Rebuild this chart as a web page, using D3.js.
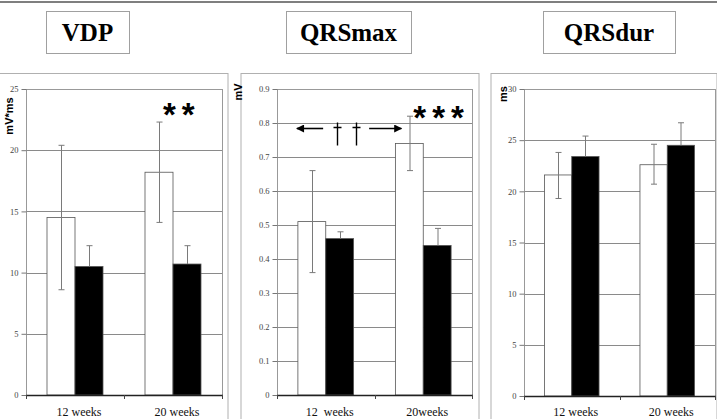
<!DOCTYPE html>
<html>
<head>
<meta charset="utf-8">
<script src="https://cdn.jsdelivr.net/npm/d3@7"></script>
<style>
  body { margin: 0; background: #fff; }
  svg { display: block; }
</style>
</head>
<body>
<div class="wrapper"></div>
<script>
// ---- data ----
var series = ["control", "treated"];

var vdpCats = ["12 weeks", "20 weeks"];
var vdpTicks = [0, 5, 10, 15, 20, 25];
var vdpWhite = [14.5, 18.2];
var vdpWhiteHi = [20.4, 22.3];
var vdpWhiteLo = [8.6, 14.1];
var vdpBlack = [10.5, 10.7];
var vdpBlackHi = [12.2, 12.2];

var qmaxCats = ["12  weeks", "20weeks"];
var qmaxTicks = [0, 0.1, 0.2, 0.3, 0.4, 0.5, 0.6, 0.7, 0.8, 0.9];
var qmaxWhite = [0.51, 0.74];
var qmaxWhiteHi = [0.66, 0.82];
var qmaxWhiteLo = [0.36, 0.66];
var qmaxBlack = [0.46, 0.44];
var qmaxBlackHi = [0.48, 0.49];

var qdurCats = ["12 weeks", "20 weeks"];
var qdurTicks = [0, 5, 10, 15, 20, 25, 30];
var qdurWhite = [21.6, 22.6];
var qdurWhiteHi = [23.8, 24.6];
var qdurWhiteLo = [19.3, 20.7];
var qdurBlack = [23.4, 24.5];
var qdurBlackHi = [25.4, 26.7];

var SERIF = "Liberation Serif";
var SANS = "Liberation Sans";

var width = 717, height = 419;

var svg = d3.select(".wrapper").append("svg")
  .attr("width", width)
  .attr("height", height);

// outer top rule
svg.append("line")
  .attr("x1", 0).attr("x2", width)
  .attr("y1", 2).attr("y2", 2)
  .attr("stroke", "#555").attr("stroke-width", 1.5);

function rows(cats, white, whiteHi, whiteLo, black, blackHi) {
  return cats.map(function(c, i) {
    return {
      cat: c,
      bars: [
        {key: "control", value: white[i], hi: whiteHi[i], lo: whiteLo[i]},
        {key: "treated", value: black[i], hi: blackHi[i], lo: null}
      ]
    };
  });
}

function drawPanel(p) {
  var g = svg.append("g");

  // panel frame
  g.append("rect")
    .attr("x", p.frame[0]).attr("y", 73.5)
    .attr("width", p.frame[1] - p.frame[0]).attr("height", 360)
    .attr("fill", "none").attr("stroke", "#b0b0b0");

  // title box
  g.append("rect")
    .attr("x", p.titleBox[0] + 0.5).attr("y", 11.5)
    .attr("width", p.titleBox[1] - p.titleBox[0]).attr("height", 42)
    .attr("fill", "#fff").attr("stroke", "#a0a0a0");
  g.append("text")
    .attr("x", (p.titleBox[0] + p.titleBox[1]) / 2)
    .attr("y", 41)
    .attr("text-anchor", "middle")
    .attr("font-family", SERIF)
    .attr("font-weight", "bold")
    .attr("font-size", 25)
    .attr("fill", "#000")
    .text(p.title);

  var y = d3.scaleLinear().domain([0, p.max]).range([p.bottom, p.top]);
  var x0 = d3.scaleBand().domain(p.data.map(function(d) { return d.cat; }))
    .range([p.left, p.right]);
  var x1 = d3.scaleBand().domain(series)
    .range([0, x0.bandwidth()])
    .paddingInner(0).paddingOuter(0.75);
  var z = d3.scaleOrdinal().domain(series).range(["#fff", "#000"]);

  // gridlines
  g.append("g")
    .selectAll("line")
    .data(p.ticks.filter(function(t) { return t > 0; }))
    .enter().append("line")
      .attr("x1", p.left).attr("x2", p.right)
      .attr("y1", function(d) { return Math.round(y(d)) + 0.5; })
      .attr("y2", function(d) { return Math.round(y(d)) + 0.5; })
      .attr("stroke", "#8a8a8a");

  // plot border
  g.append("rect")
    .attr("x", p.left + 0.5).attr("y", y(p.max) + 0.5)
    .attr("width", p.right - p.left).attr("height", p.bottom - y(p.max))
    .attr("fill", "none").attr("stroke", "#999");

  // bars
  var groups = g.append("g")
    .selectAll("g")
    .data(p.data)
    .enter().append("g")
      .attr("transform", function(d) { return "translate(" + x0(d.cat) + ",0)"; });

  groups.selectAll("rect")
    .data(function(d) { return d.bars; })
    .enter().append("rect")
      .attr("x", function(d) { return x1(d.key); })
      .attr("y", function(d) { return y(d.value); })
      .attr("width", x1.bandwidth())
      .attr("height", function(d) { return p.bottom - y(d.value); })
      .attr("fill", function(d) { return z(d.key); })
      .attr("stroke", "#555")
      .attr("stroke-width", 0.8);

  // error bars
  groups.selectAll("path.err")
    .data(function(d) { return d.bars; })
    .enter().append("path")
      .attr("class", "err")
      .attr("fill", "none")
      .attr("stroke", "#7a7a7a")
      .attr("stroke-width", 1)
      .attr("d", function(d) {
        var cx = Math.round(x1(d.key) + x1.bandwidth() / 2) + 0.5;
        var lo = d.lo == null ? d.value : d.lo;
        var s = "M" + cx + "," + y(lo) + "V" + y(d.hi) +
          "M" + (cx - 3) + "," + y(d.hi) + "H" + (cx + 3);
        if (d.lo != null) {
          s += "M" + (cx - 3) + "," + y(d.lo) + "H" + (cx + 3);
        }
        return s;
      });

  // y axis
  var yAxis = g.append("g")
    .attr("transform", "translate(" + (p.left + 0.5) + ",0)")
    .call(d3.axisLeft(y).tickValues(p.ticks).tickSize(5).tickPadding(3).tickFormat(p.fmt));
  yAxis.attr("font-family", SERIF).attr("font-size", 8.5);
  yAxis.select(".domain").remove();
  yAxis.selectAll(".tick line").attr("stroke", "#777");
  yAxis.selectAll(".tick text").attr("fill", "#444");

  // x axis line with band boundary ticks
  g.append("line")
    .attr("x1", p.left).attr("x2", p.right + 1)
    .attr("y1", p.bottom + 0.5).attr("y2", p.bottom + 0.5)
    .attr("stroke", "#222").attr("stroke-width", 1.3);
  var bounds = x0.domain().map(function(c) { return x0(c); }).concat([p.right]);
  g.append("g").selectAll("line")
    .data(bounds)
    .enter().append("line")
      .attr("x1", function(d) { return Math.round(d) + 0.5; })
      .attr("x2", function(d) { return Math.round(d) + 0.5; })
      .attr("y1", p.bottom).attr("y2", p.bottom + 4)
      .attr("stroke", "#444");

  g.append("g").selectAll("text")
    .data(x0.domain())
    .enter().append("text")
      .attr("x", function(d) { return x0(d) + x0.bandwidth() / 2 + 4; })
      .attr("y", 416)
      .attr("text-anchor", "middle")
      .attr("font-family", SERIF)
      .attr("font-size", 12)
      .attr("fill", "#111")
      .style("white-space", "pre")
      .text(function(d) { return d; });

  // unit label
  g.append("text")
    .attr("transform", "translate(" + p.unitPos[0] + "," + p.unitPos[1] + ") rotate(-90)")
    .attr("text-anchor", "middle")
    .attr("font-family", SANS)
    .attr("font-weight", "bold")
    .attr("font-size", 11)
    .attr("fill", "#000")
    .text(p.unit);

  return {x0: x0, x1: x1, y: y, g: g};
}

var fmtInt = d3.format("d");
var fmtDec = function(v) { return v === 0 ? "0" : d3.format(".1f")(v); };

var p1 = drawPanel({
  title: "VDP", unit: "mV*ms", unitPos: [13, 116],
  frame: [-2, 228], titleBox: [46, 129],
  left: 26, right: 222, top: 89, bottom: 395,
  max: 25, ticks: vdpTicks, fmt: fmtInt,
  data: rows(vdpCats, vdpWhite, vdpWhiteHi, vdpWhiteLo, vdpBlack, vdpBlackHi)
});

var p2 = drawPanel({
  title: "QRSmax", unit: "mV", unitPos: [242, 92],
  frame: [241, 479], titleBox: [286, 411],
  left: 277, right: 472, top: 89, bottom: 395,
  max: 0.9, ticks: qmaxTicks, fmt: fmtDec,
  data: rows(qmaxCats, qmaxWhite, qmaxWhiteHi, qmaxWhiteLo, qmaxBlack, qmaxBlackHi)
});

var p3 = drawPanel({
  title: "QRSdur", unit: "ms", unitPos: [507, 94],
  frame: [491, 717], titleBox: [543, 675],
  left: 524, right: 715, top: 89, bottom: 396,
  max: 30, ticks: qdurTicks, fmt: fmtInt,
  data: rows(qdurCats, qdurWhite, qdurWhiteHi, qdurWhiteLo, qdurBlack, qdurBlackHi)
});

// significance marks
function stars(p, cat, n, val) {
  p.g.append("text")
    .attr("x", p.x0(cat) + p.x1("control") + p.x1.bandwidth() / 2 + 4)
    .attr("y", p.y(val))
    .attr("font-family", SANS)
    .attr("font-weight", "bold")
    .attr("font-size", 33)
    .attr("letter-spacing", 6)
    .attr("fill", "#000")
    .text(d3.range(n).map(function() { return "*"; }).join(""));
}
stars(p1, vdpCats[1], 2, 22.0);
stars(p2, qmaxCats[1], 3, 0.782);

// dagger comparison arrows on QRSmax
var ay = Math.round(p2.y(0.785)) + 0.5;
var defs = svg.append("defs");
defs.append("marker")
  .attr("id", "head")
  .attr("viewBox", "0 0 10 10")
  .attr("refX", 9).attr("refY", 5)
  .attr("markerWidth", 10).attr("markerHeight", 8)
  .attr("markerUnits", "userSpaceOnUse")
  .attr("orient", "auto-start-reverse")
  .append("path").attr("d", "M0,0L10,5L0,10Z").attr("fill", "#000");

var aLeft = p2.x0(qmaxCats[0]) + p2.x1("control") - 1;
var aRight = p2.x0(qmaxCats[1]) + p2.x1("control") + 6;
var mid = (aLeft + aRight) / 2;
p2.g.append("line")
  .attr("x1", mid - 26).attr("x2", aLeft)
  .attr("y1", ay).attr("y2", ay)
  .attr("stroke", "#000").attr("stroke-width", 1.6)
  .attr("marker-end", "url(#head)");
p2.g.append("line")
  .attr("x1", mid + 20).attr("x2", aRight)
  .attr("y1", ay).attr("y2", ay)
  .attr("stroke", "#000").attr("stroke-width", 1.6)
  .attr("marker-end", "url(#head)");
[mid - 12, mid + 7].forEach(function(dx) {
  var x = Math.round(dx) + 0.5;
  p2.g.append("path")
    .attr("d", "M" + x + "," + (ay - 6) + "V" + (ay + 17) +
      "M" + (x - 4) + "," + (ay - 1) + "H" + (x + 4))
    .attr("stroke", "#000").attr("stroke-width", 1.4).attr("fill", "none");
});
</script>
</body>
</html>
